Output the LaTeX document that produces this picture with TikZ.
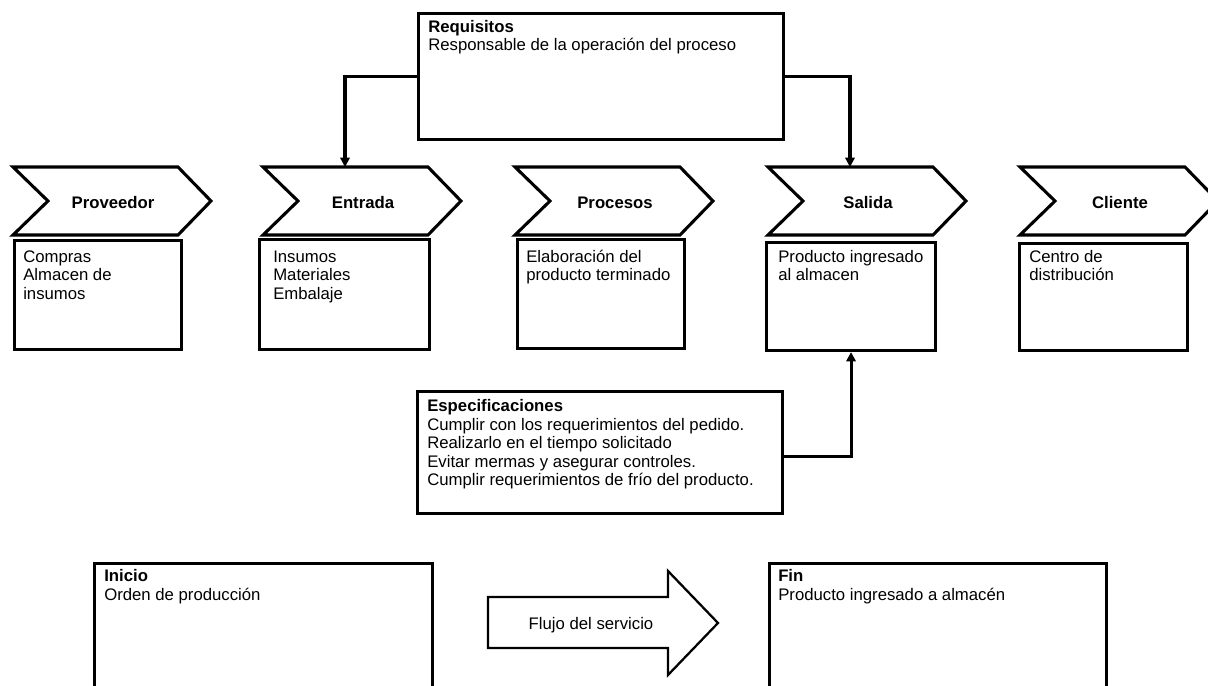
\documentclass[tikz,border=0pt]{standalone}
\usepackage{fontspec}
\setmainfont{Liberation Sans}
\usetikzlibrary{arrows.meta}
\def\px{0.75pt}
\begin{document}
\begin{tikzpicture}[x=0.75pt,y=-0.75pt,
  outline/.style={draw=black,line width=2.3pt,line join=miter},
  boxnode/.style={outline,rectangle,inner sep=0pt,anchor=north west},
  txt/.style={anchor=north west,inner sep=0pt,align=left,
    font=\fontsize{12.55}{13.9}\selectfont},
  chevlabel/.style={anchor=base,inner sep=0pt,
    font=\fontsize{12.55}{13.9}\selectfont\bfseries},
  conn/.style={draw=black,line width=2.3pt,-{Triangle[length=7pt,width=7pt]}},
  flow/.style={draw=black,line width=1.7pt,line join=miter}]
\useasboundingbox (0,0) rectangle (1208,686);
\clip (0,0) rectangle (1208,686);
\fill[white] (0,0) rectangle (1208,686);

% process chevrons with their titles
\foreach \n/\L/\t in {prov/13/Proveedor, ent/263/Entrada, proc/515/Procesos,
                      sal/768/Salida, cli/1020/Cliente} {
  \draw[outline] (\L,167) -- ++(165,0) -- ++(33,34) -- ++(-33,34)
    -- ++(-165,0) -- ++(35,-34) -- cycle;
  \node[chevlabel] (\n) at (\L+100,208) {\t};
}

% description boxes under each chevron
\node[boxnode,minimum width=167*\px,minimum height=109*\px] (provbox) at (13,239) {};
\node[boxnode,minimum width=170*\px,minimum height=110*\px] (entbox) at (258,238) {};
\node[boxnode,minimum width=167*\px,minimum height=109*\px] (procbox) at (516,238) {};
\node[boxnode,minimum width=169*\px,minimum height=108*\px] (salbox) at (765,241) {};
\node[boxnode,minimum width=168*\px,minimum height=107*\px] (clibox) at (1018,242) {};

\node[txt] (provtxt) at (23,249) {\strut Compras\\Almacen de\\insumos};
\node[txt] (enttxt) at (273,249) {\strut Insumos\\Materiales\\Embalaje};
\node[txt] (proctxt) at (526,249) {\strut Elaboración del\\producto terminado};
\node[txt] (saltxt) at (778,249) {\strut Producto ingresado\\al almacen};
\node[txt] (clitxt) at (1029,249) {\strut Centro de\\distribución};

% requirements box
\node[boxnode,minimum width=365*\px,minimum height=126*\px] (req) at (417,12) {};
\node[txt] (reqtxt) at (428,19) {\strut\textbf{Requisitos}\\Responsable de la operación del proceso};

% specifications box
\node[boxnode,minimum width=365*\px,minimum height=122*\px] (esp) at (416,390) {};
\node[txt] (esptxt) at (427,398.5) {\strut\textbf{Especificaciones}\\
  Cumplir con los requerimientos del pedido.\\
  Realizarlo en el tiempo solicitado\\
  Evitar mermas y asegurar controles.\\
  Cumplir requerimientos de frío del producto.};

% connectors
\coordinate (entTop) at (345,167);
\coordinate (salTop) at (850,167);
\draw[conn] (req.west) -| (entTop);
\draw[conn] (req.east) -| (salTop);
\draw[conn] ([yshift=-3pt]esp.east) -| (salbox.south);

% start and end boxes
\node[boxnode,minimum width=338*\px,minimum height=160*\px] (ini) at (93,562) {};
\node[txt] (initxt) at (104,568.5) {\strut\textbf{Inicio}\\Orden de producción};
\node[boxnode,minimum width=337*\px,minimum height=160*\px] (fin) at (768,562) {};
\node[txt] (fintxt) at (778,568.5) {\strut\textbf{Fin}\\Producto ingresado a almacén};

% service flow arrow
\draw[flow] (488,597) -- (668,597) -- (668,571) -- (718,623) -- (668,675)
  -- (668,648) -- (488,648) -- cycle;
\node[anchor=base,inner sep=0pt,font=\fontsize{12.55}{13.9}\selectfont] (flujo)
  at (591,629) {Flujo del servicio};
\end{tikzpicture}
\end{document}
